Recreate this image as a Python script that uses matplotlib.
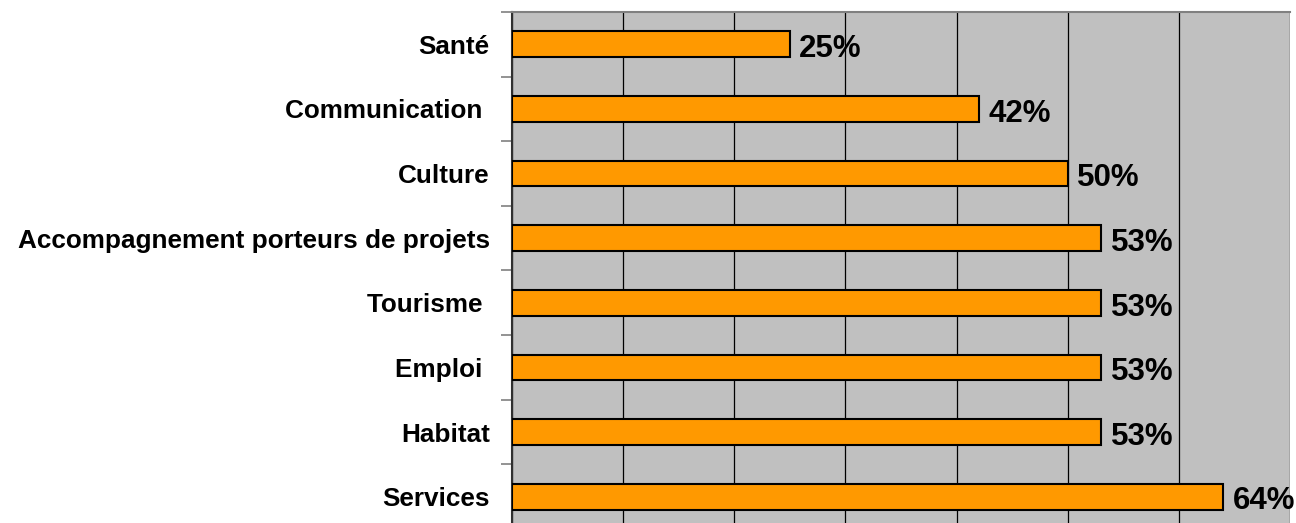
import matplotlib
matplotlib.use('Agg')
import matplotlib.pyplot as plt
import numpy as np

# Données : part des répondants par thème (en %)
categories = ["Santé", "Communication ", "Culture", "Accompagnement porteurs de projets",
              "Tourisme ", "Emploi ", "Habitat", "Services"]
valeurs = [25, 42, 50, 53, 53, 53, 53, 64]
etiquettes = ["25%", "42%", "50%", "53%", "53%", "53%", "53%", "64%"]

plt.rcParams['font.family'] = ['Liberation Sans', 'DejaVu Sans']

fig = plt.figure(figsize=(12.96, 5.23), dpi=100)
ax = fig.add_axes([512 / 1296, 1 - 529 / 523, 778 / 1296, 517 / 523])
ax.set_facecolor('#C0C0C0')

y = np.arange(len(categories))
ax.barh(y, valeurs, height=0.4, color='#FF9900', edgecolor='black', linewidth=1.5, zorder=3)

for yi, v, txt in zip(y, valeurs, etiquettes):
    ax.text(v + 0.85, yi + 0.02, txt, va='center_baseline', ha='left',
            fontsize=22.5, fontweight='bold', zorder=4)

ax.set_xlim(0, 70)
ax.set_ylim(len(categories) - 0.5, -0.5)
ax.set_xticks(np.arange(0, 71, 10))
ax.xaxis.grid(True, color='black', linewidth=0.9, zorder=1)
ax.tick_params(axis='x', length=0, labelbottom=False)

ax.set_yticks(y)
ax.set_yticklabels(categories, fontsize=18.8, fontweight='bold')
ax.tick_params(axis='y', which='major', length=0, pad=16)
ax.set_yticks(np.arange(-0.5, len(categories), 1), minor=True)
ax.tick_params(axis='y', which='minor', length=8, width=1.2, color='#808080')

for side in ['top', 'right', 'bottom']:
    ax.spines[side].set_color('#808080')
    ax.spines[side].set_linewidth(1.5)
ax.spines['right'].set_visible(False)
ax.spines['left'].set_color('#303030')
ax.spines['left'].set_linewidth(1.5)

fig.savefig('out.png', dpi=100)
